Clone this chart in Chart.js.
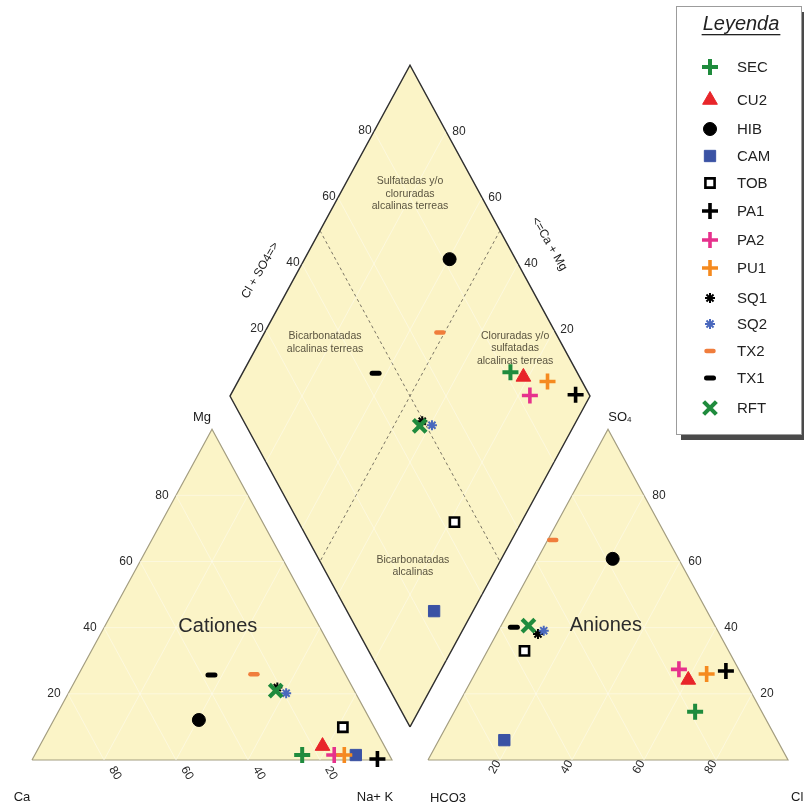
<!DOCTYPE html>
<html>
<head>
<meta charset="utf-8">
<script src="https://cdn.jsdelivr.net/npm/chart.js@4/dist/chart.umd.min.js"></script>
<style>
  html, body { margin: 0; padding: 0; background: #ffffff; }
  #wrap { width: 804px; height: 804px; position: relative; }
</style>
</head>
<body>
<div id="wrap"><canvas id="piper"></canvas></div>
<script>
// ---- Sample data (percent of meq/L) ----
const samples  = ['SEC', 'CU2', 'HIB', 'CAM', 'TOB', 'PA1', 'PA2', 'PU1', 'SQ1', 'SQ2', 'TX2', 'TX1', 'RFT'];
// cations
const caPct    = [24.2, 17.2, 47.6,  9.3,  8.7,  3.9, 15.3, 12.5, 20.9, 19.3, 25.4, 37.3, 21.8];
const mgPct    = [ 1.5,  4.2, 12.1,  1.5,  9.9,  0.3,  1.5,  1.5, 21.9, 20.2, 25.9, 25.7, 21.0];
const nakPct   = [74.3, 78.6, 40.3, 89.2, 81.4, 95.8, 83.2, 86.0, 57.2, 60.5, 48.7, 37.0, 57.2];
// anions
const hco3Pct  = [18.5, 15.6, 18.3, 75.8, 56.7,  3.8, 16.6,  9.6, 50.4, 48.3, 32.1, 56.1, 51.8];
const so4Pct   = [14.6, 24.2, 60.8,  6.0, 33.0, 26.9, 27.4, 26.0, 38.1, 39.1, 66.5, 40.1, 40.6];
const clPct    = [66.9, 60.2, 20.9, 18.2, 10.3, 69.3, 56.0, 64.4, 11.5, 12.6,  1.4,  3.8,  7.6];
// axis ticks
const tickValues = [20, 40, 60, 80];

// ---- Marker styles per sample ----
const markerStyles = {
  SEC: { pointStyle: 'cross',    radius: 8,   borderWidth: 4,   stroke: '#1f8b3d', fill: '#1f8b3d' },
  CU2: { pointStyle: 'triangle', radius: 8.5, borderWidth: 1,   stroke: '#e8252a', fill: '#e8252a' },
  HIB: { pointStyle: 'circle',   radius: 6.5, borderWidth: 1,   stroke: '#000000', fill: '#000000' },
  CAM: { pointStyle: 'rect',     radius: 8,   borderWidth: 1,   stroke: '#3a52a4', fill: '#3a52a4' },
  TOB: { pointStyle: 'rect',     radius: 6.5, borderWidth: 2.6, stroke: '#000000', fill: '#ffffff' },
  PA1: { pointStyle: 'cross',    radius: 8,   borderWidth: 3.6, stroke: '#000000', fill: '#000000' },
  PA2: { pointStyle: 'cross',    radius: 8,   borderWidth: 3.6, stroke: '#e6318c', fill: '#e6318c' },
  PU1: { pointStyle: 'cross',    radius: 8,   borderWidth: 3.6, stroke: '#f58a1f', fill: '#f58a1f' },
  SQ1: { pointStyle: 'star',     radius: 5,   borderWidth: 2,   stroke: '#000000', fill: '#000000' },
  SQ2: { pointStyle: 'star',     radius: 5,   borderWidth: 2,   stroke: '#4a68bd', fill: '#4a68bd' },
  TX2: { pointStyle: 'line',     radius: 3.5, borderWidth: 4.5, stroke: '#f07d3c', fill: '#f07d3c', round: true },
  TX1: { pointStyle: 'line',     radius: 3.5, borderWidth: 5,   stroke: '#000000', fill: '#000000', round: true },
  RFT: { pointStyle: 'crossRot', radius: 9,   borderWidth: 4.2, stroke: '#1f8b3d', fill: '#1f8b3d' }
};
const legendRowY = [67, 100, 129, 156, 183, 211, 240, 268, 298, 324, 351, 378, 408];

// ---- Piper geometry (triangle side = 100 units) ----
const H = Math.sqrt(3) / 2;
const GAP = 10;
const catXY = (ca, mg, nak) => ({ x: nak + mg / 2, y: mg * H });
const anXY  = (hco3, so4, cl) => ({ x: 100 + GAP + cl + so4 / 2, y: so4 * H });
// diamond: projection of Na+K (cations) and HCO3 (anions)
const diaXY = (nak, hco3) => { const t = 200 + GAP - nak - hco3; return { x: nak + t / 2, y: t * H }; };

const FILL = '#fbf4c7';
const GRID = 'rgba(255,255,255,0.4)';

function polygon(pts) { return pts.concat([pts[0]]); }
function gridLines(pairs) {
  const out = [];
  pairs.forEach(([a, b]) => { out.push(a, b, { x: NaN, y: NaN }); });
  return out;
}

const catFrame = polygon([catXY(100, 0, 0), catXY(0, 0, 100), catXY(0, 100, 0)]);
const anFrame  = polygon([anXY(100, 0, 0), anXY(0, 0, 100), anXY(0, 100, 0)]);
const diaFrame = polygon([diaXY(100, 100), diaXY(100, 0), diaXY(0, 0), diaXY(0, 100)]);

const catGrid = gridLines(tickValues.flatMap(k => [
  [catXY(100 - k, k, 0), catXY(0, k, 100 - k)],
  [catXY(k, 0, 100 - k), catXY(k, 100 - k, 0)],
  [catXY(100 - k, 0, k), catXY(0, 100 - k, k)]
]));
const anGrid = gridLines(tickValues.flatMap(k => [
  [anXY(100 - k, k, 0), anXY(0, k, 100 - k)],
  [anXY(k, 0, 100 - k), anXY(k, 100 - k, 0)],
  [anXY(100 - k, 0, k), anXY(0, 100 - k, k)]
]));
const diaGrid = gridLines(tickValues.flatMap(k => [
  [diaXY(k, 0), diaXY(k, 100)],
  [diaXY(0, k), diaXY(100, k)]
]));
const diaDividers = gridLines([
  [diaXY(50, 0), diaXY(50, 100)],
  [diaXY(0, 50), diaXY(100, 50)]
]);

function frameDataset(data, border, width) {
  return { data, showLine: true, fill: 'shape', backgroundColor: FILL, borderColor: border,
           borderWidth: width, pointRadius: 0, tension: 0, order: 20 };
}
function lineDataset(data, color, width, dash) {
  return { data, showLine: true, fill: false, borderColor: color, borderWidth: width,
           borderDash: dash || [], pointRadius: 0, spanGaps: false, tension: 0, order: 15 };
}

const datasets = [
  frameDataset(catFrame, '#a39d80', 1.2),
  frameDataset(anFrame, '#a39d80', 1.2),
  frameDataset(diaFrame, '#2f2f2f', 1.4),
  lineDataset(catGrid, GRID, 1),
  lineDataset(anGrid, GRID, 1),
  lineDataset(diaGrid, GRID, 1),
  lineDataset(diaDividers, '#7a7464', 1, [3, 3])
];

samples.forEach((name, i) => {
  const s = markerStyles[name];
  datasets.push({
    label: name,
    data: [
      catXY(caPct[i], mgPct[i], nakPct[i]),
      anXY(hco3Pct[i], so4Pct[i], clPct[i]),
      diaXY(nakPct[i], hco3Pct[i])
    ],
    showLine: false,
    pointStyle: s.pointStyle,
    pointRadius: s.radius,
    pointHoverRadius: s.radius,
    pointBorderWidth: s.borderWidth,
    pointBackgroundColor: s.fill,
    pointBorderColor: s.stroke,
    roundCap: !!s.round,
    order: samples.length - i
  });
});

// ---- Text drawing helpers ----
const FONT = '"Liberation Sans", Arial, Helvetica, sans-serif';
const DEG = Math.PI / 180;
function drawText(ctx, s, x, y, opt) {
  opt = opt || {};
  ctx.save();
  ctx.font = opt.font || ('12px ' + FONT);
  ctx.fillStyle = opt.color || '#222222';
  ctx.textAlign = opt.align || 'center';
  ctx.textBaseline = 'middle';
  ctx.translate(x, y);
  if (opt.rot) ctx.rotate(opt.rot * DEG);
  ctx.fillText(s, 0, 0);
  ctx.restore();
}

const capPlugin = {
  id: 'markerCaps',
  beforeDatasetDraw(chart, args) {
    const ds = chart.data.datasets[args.index];
    chart.ctx.lineCap = ds.roundCap ? 'round' : 'butt';
  },
  afterDatasetDraw(chart) { chart.ctx.lineCap = 'butt'; }
};

const labelPlugin = {
  id: 'piperLabels',
  afterDatasetsDraw(chart) {
    const ctx = chart.ctx;
    const sx = chart.scales.x, sy = chart.scales.y;
    const P = p => ({ x: sx.getPixelForValue(p.x), y: sy.getPixelForValue(p.y) });
    const tickFont = '12px ' + FONT;
    const tickColor = '#2a2a2a';

    tickValues.forEach(k => {
      // cations: Mg along left side, Ca along the base
      let p = P(catXY(100 - k, k, 0));
      drawText(ctx, String(k), p.x - 14, p.y, { font: tickFont, color: tickColor });
      p = P(catXY(k, 0, 100 - k));
      drawText(ctx, String(k), p.x + 11, p.y + 13, { font: tickFont, color: tickColor, rot: 60 });
      // anions: SO4 along right side, Cl along the base
      p = P(anXY(0, k, 100 - k));
      drawText(ctx, String(k), p.x + 15, p.y, { font: tickFont, color: tickColor });
      p = P(anXY(100 - k, 0, k));
      drawText(ctx, String(k), p.x - 5, p.y + 7, { font: tickFont, color: tickColor, rot: -60 });
      // diamond: Cl+SO4 on upper-left, Ca+Mg on upper-right
      p = P(diaXY(0, 100 - k));
      drawText(ctx, String(k), p.x - 9, p.y - 1, { font: tickFont, color: tickColor });
      p = P(diaXY(100 - k, 0));
      drawText(ctx, String(k), p.x + 13, p.y, { font: tickFont, color: tickColor });
    });

    const cornerFont = '13px ' + FONT;
    const cc = '#1a1a1a';
    let p = P(catXY(0, 100, 0));
    drawText(ctx, 'Mg', p.x - 10, p.y - 12, { font: cornerFont, color: cc });
    p = P(catXY(100, 0, 0));
    drawText(ctx, 'Ca', p.x - 10, p.y + 37, { font: cornerFont, color: cc });
    p = P(catXY(0, 0, 100));
    drawText(ctx, 'Na+ K', p.x - 17, p.y + 37, { font: cornerFont, color: cc });
    p = P(anXY(100, 0, 0));
    drawText(ctx, 'HCO3', p.x + 20, p.y + 38, { font: cornerFont, color: cc });
    p = P(anXY(0, 0, 100));
    drawText(ctx, 'Cl', p.x + 3, p.y + 37, { font: cornerFont, color: cc, align: 'left' });
    p = P(anXY(0, 100, 0));
    drawText(ctx, 'SO', p.x + 19, p.y - 12, { font: cornerFont, color: cc, align: 'right' });
    drawText(ctx, '4', p.x + 19, p.y - 9, { font: '8px ' + FONT, color: cc, align: 'left' });

    // triangle names
    p = P(catXY(33.3, 33.3, 33.3));
    drawText(ctx, 'Cationes', p.x + 6, p.y - 23, { font: '20px ' + FONT, color: '#2b2b2b' });
    p = P(anXY(33.3, 33.3, 33.3));
    drawText(ctx, 'Aniones', p.x - 2, p.y - 24, { font: '20px ' + FONT, color: '#2b2b2b' });

    // diamond axis titles, outside the upper edges
    p = P(diaXY(0, 62));
    drawText(ctx, 'Cl + SO4=>', p.x - 38, p.y, { font: '12px ' + FONT, color: cc, rot: -60 });
    p = P(diaXY(54, 0));
    drawText(ctx, '<=Ca + Mg', p.x + 42, p.y, { font: '12px ' + FONT, color: cc, rot: 60 });

    // water type fields
    const rf = '10.5px ' + FONT, rc = '#5a5440';
    const block = (lines, q) => {
      const c = P(q);
      const lh = 12.5;
      lines.forEach((l, j) => drawText(ctx, l, c.x, c.y + (j - (lines.length - 1) / 2) * lh, { font: rf, color: rc }));
    };
    block(['Sulfatadas y/o', 'cloruradas', 'alcalinas terreas'], diaXY(19.4, 19.4));
    block(['Bicarbonatadas', 'alcalinas terreas'], diaXY(18.3, 65.5));
    block(['Cloruradas y/o', 'sulfatadas', 'alcalinas terreas'], diaXY(72, 13.6));
    block(['Bicarbonatadas', 'alcalinas'], diaXY(76.5, 74.9));
  },
  afterDraw(chart) {
    const ctx = chart.ctx;
    // legend box with drop shadow
    const bx = 676, by = 6, bw = 125, bh = 428;
    ctx.save();
    ctx.fillStyle = '#4a4a4a';
    ctx.fillRect(bx + 5, by + bh, bw + 4, 6);
    ctx.fillRect(bx + bw, by + 6, 4, bh);
    ctx.fillStyle = '#ffffff';
    ctx.fillRect(bx, by, bw, bh);
    ctx.strokeStyle = '#9c9c9c';
    ctx.lineWidth = 1;
    ctx.strokeRect(bx + 0.5, by + 0.5, bw, bh);
    ctx.restore();

    ctx.save();
    ctx.font = 'italic 20px ' + FONT;
    ctx.fillStyle = '#222222';
    ctx.textAlign = 'center';
    ctx.textBaseline = 'middle';
    const lx = 741, ly = 24;
    ctx.fillText('Leyenda', lx, ly);
    const w = ctx.measureText('Leyenda').width;
    ctx.fillRect(lx - w / 2 - 1, ly + 10, w + 2, 1.3);
    ctx.restore();

    const drawPoint = Chart.helpers && Chart.helpers.drawPoint;
    samples.forEach((name, i) => {
      const s = markerStyles[name];
      const y = legendRowY[i];
      ctx.save();
      ctx.fillStyle = s.fill;
      ctx.strokeStyle = s.stroke;
      ctx.lineWidth = s.borderWidth;
      ctx.lineCap = s.round ? 'round' : 'butt';
      if (drawPoint) {
        drawPoint(ctx, { pointStyle: s.pointStyle, radius: s.radius, borderWidth: s.borderWidth, rotation: 0 }, 710, y);
      }
      ctx.restore();
      drawText(ctx, name, 737, y + 1, { font: '15px ' + FONT, color: '#222222', align: 'left' });
    });
  }
};

// px scale: 3.6 px per unit horizontally, 3.82 px per unit vertically
const X_MIN = -32 / 3.6, X_MAX = X_MIN + 804 / 3.6;
const Y_MIN = -44 / 3.82, Y_MAX = Y_MIN + 804 / 3.82;

new Chart(document.getElementById('piper'), {
  type: 'scatter',
  data: { datasets },
  options: {
    responsive: true,
    maintainAspectRatio: false,
    animation: false,
    events: [],
    devicePixelRatio: 1,
    layout: { padding: 0, autoPadding: false },
    scales: {
      x: { type: 'linear', min: X_MIN, max: X_MAX, display: false },
      y: { type: 'linear', min: Y_MIN, max: Y_MAX, display: false }
    },
    plugins: { legend: { display: false }, tooltip: { enabled: false }, title: { display: false } }
  },
  plugins: [capPlugin, labelPlugin]
});
</script>
</body>
</html>
